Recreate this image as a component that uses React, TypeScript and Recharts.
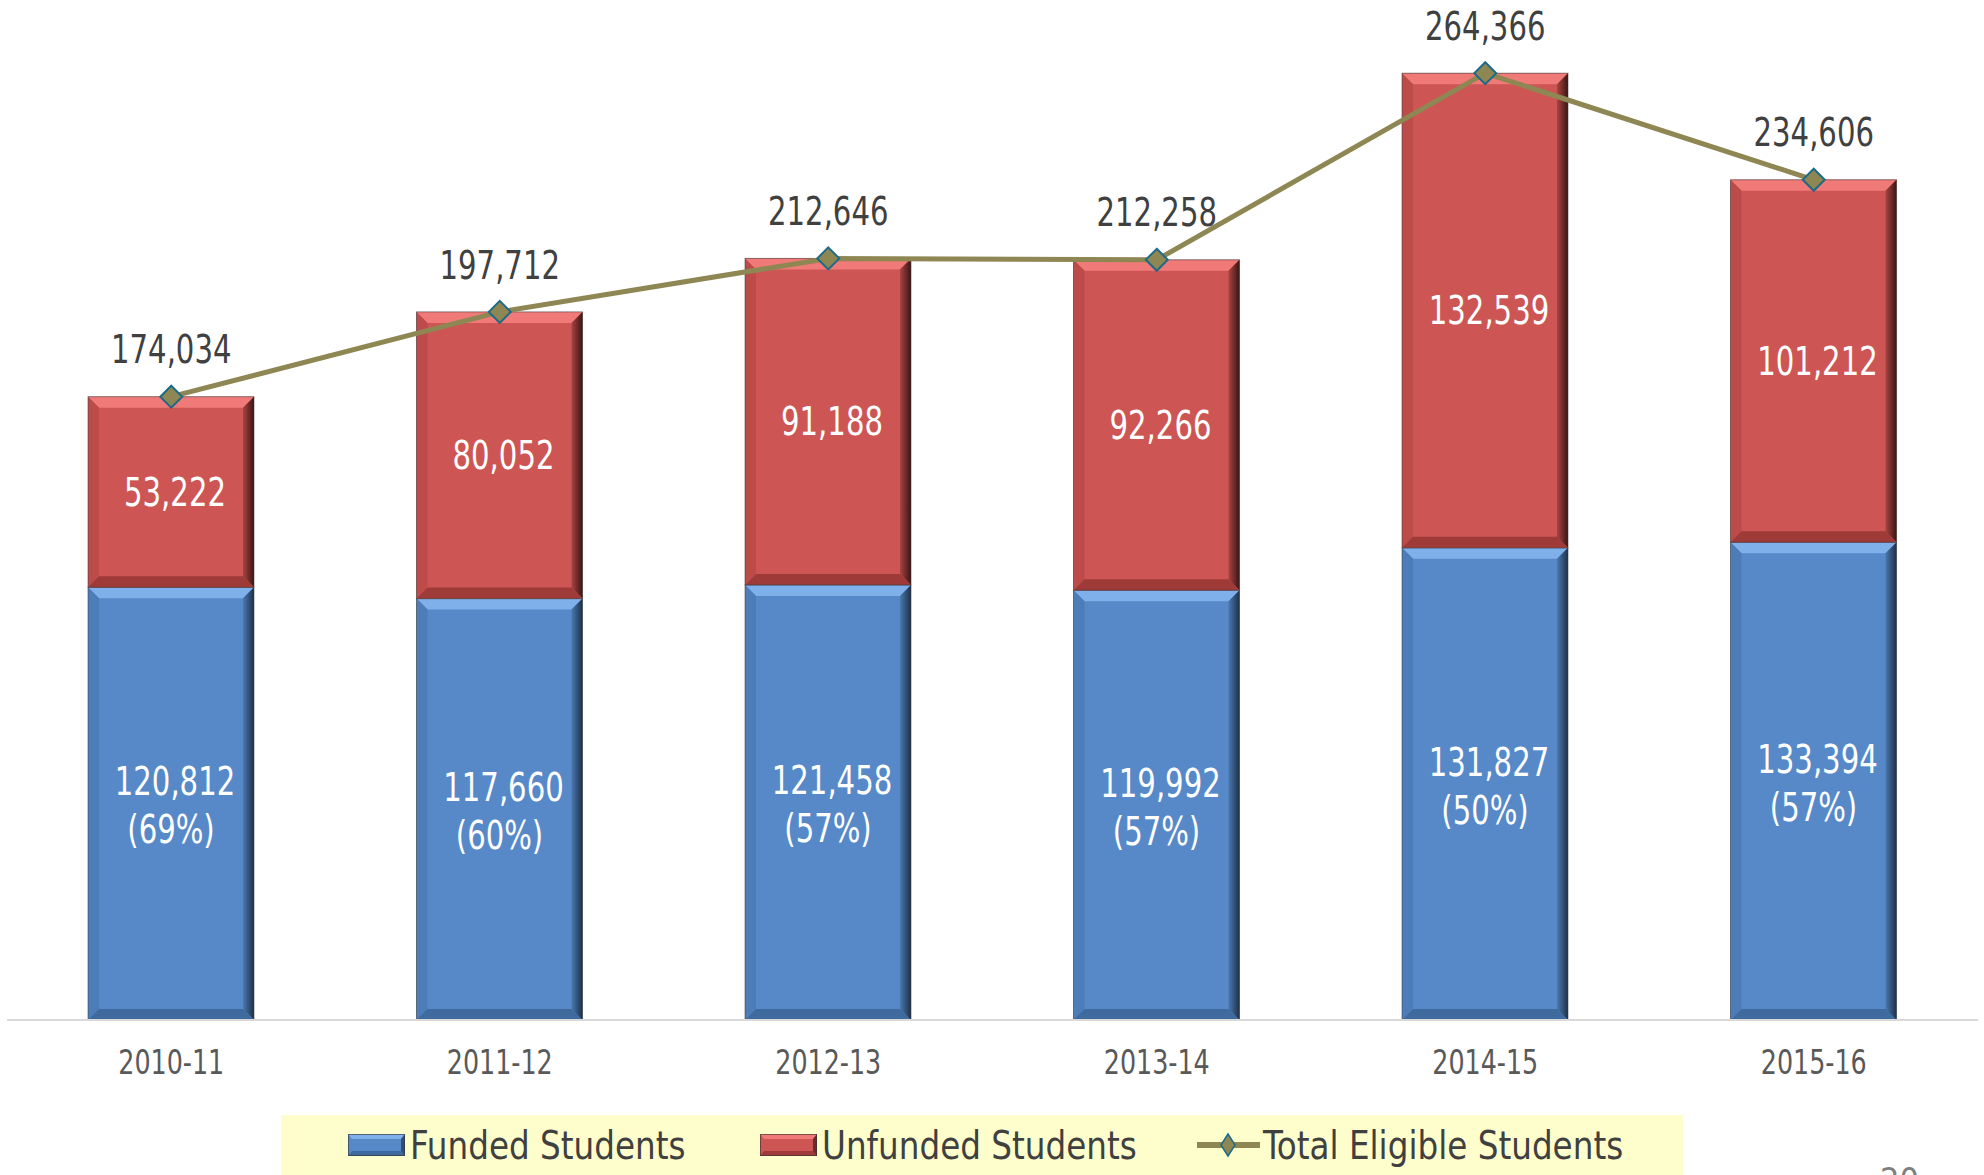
import { Bar, ComposedChart, LabelList, Line, XAxis, YAxis } from 'recharts';

// school years on the x axis
const years = ['2010-11', '2011-12', '2012-13', '2013-14', '2014-15', '2015-16'];

// student counts per year
const funded = [120812, 117660, 121458, 119992, 131827, 133394];
const unfunded = [53222, 80052, 91188, 92266, 132539, 101212];
const totalEligible = [174034, 197712, 212646, 212258, 264366, 234606];
const fundedShare = ['69%', '60%', '57%', '57%', '50%', '57%'];

const FONT = '"Liberation Sans Narrow", "Arial Narrow", "DejaVu Sans Condensed", sans-serif';
const BLUE = '#5789C9';
const RED = '#CD5654';
const OLIVE = '#8E8753';
const MARKER_EDGE = '#1D6A88';
const TEXT_DARK = '#404040';
// the slide uses a very condensed face; squeeze ours to match
const SQUEEZE = 0.83;

const fmt = (n: number) => n.toLocaleString('en-US');

const data = years.map((year, i) => ({
  year,
  funded: funded[i],
  unfunded: unfunded[i],
  total: totalEligible[i],
  share: fundedShare[i],
}));

const BEVEL: Record<string, { top: string; left: string; right: string; bottom: string }> = {
  [BLUE]: { top: '#7FB0EA', left: '#4D7DB9', right: 'url(#edgeBlue)', bottom: '#3F6A9E' },
  [RED]: { top: '#F07A77', left: '#BC4B49', right: 'url(#edgeRed)', bottom: '#9E3B39' },
};

function NarrowText({
  x,
  y,
  children,
  fill,
  size = 39,
  squeeze = SQUEEZE,
}: {
  x: number;
  y: number;
  children: any;
  fill: string;
  size?: number;
  squeeze?: number;
}) {
  return (
    <text
      transform={`translate(${x} ${y}) scale(${squeeze} 1)`}
      textAnchor="middle"
      dominantBaseline="central"
      fill={fill}
      fontSize={size}
      fontFamily={FONT}
    >
      {children}
    </text>
  );
}

// bar with a soft bevel, like the office chart
function BevelBar(props: any) {
  const { x, y, width: w, height: h, fill } = props;
  if (!w || !h || h <= 0) return null;
  const b = Math.min(11, h / 3);
  const c = BEVEL[fill];
  return (
    <g>
      <rect x={x} y={y} width={w} height={h} fill={fill} />
      <polygon points={`${x},${y} ${x + w},${y} ${x + w - b},${y + b} ${x + b},${y + b}`} fill={c.top} />
      <polygon points={`${x},${y} ${x + b},${y + b} ${x + b},${y + h - b} ${x},${y + h}`} fill={c.left} />
      <polygon
        points={`${x + w},${y} ${x + w},${y + h} ${x + w - b},${y + h - b} ${x + w - b},${y + b}`}
        fill={c.right}
      />
      <polygon
        points={`${x},${y + h} ${x + b},${y + h - b} ${x + w - b},${y + h - b} ${x + w},${y + h}`}
        fill={c.bottom}
      />
      <rect x={x} y={y} width={w} height={h} fill="none" stroke="rgba(60,60,60,0.55)" strokeWidth={1} />
    </g>
  );
}

function Diamond(props: any) {
  const { cx, cy } = props;
  if (cx == null || cy == null) return null;
  const r = 11;
  return (
    <polygon
      points={`${cx},${cy - r} ${cx + r},${cy} ${cx},${cy + r} ${cx - r},${cy}`}
      fill={OLIVE}
      stroke={MARKER_EDGE}
      strokeWidth={2}
    />
  );
}

function UnfundedLabel(props: any) {
  const { x, y, width, height, value } = props;
  return (
    <NarrowText x={x + width / 2 + 4} y={y + height / 2} fill="#fff">
      {fmt(value)}
    </NarrowText>
  );
}

function FundedLabel(props: any) {
  const { x, y, width, height, value, index } = props;
  const cx = x + width / 2;
  const cy = y + height / 2;
  return (
    <g>
      <NarrowText x={cx + 4} y={cy - 22} fill="#fff">
        {fmt(value)}
      </NarrowText>
      <NarrowText x={cx} y={cy + 26} fill="#fff">
        ({fundedShare[index]})
      </NarrowText>
    </g>
  );
}

function TotalLabel(props: any) {
  const { x, y, value } = props;
  return (
    <NarrowText x={x} y={y - 47} fill={TEXT_DARK}>
      {fmt(value)}
    </NarrowText>
  );
}

function YearTick(props: any) {
  const { x, y, payload } = props;
  return (
    <NarrowText x={x} y={y + 16} fill="#595959" size={34} squeeze={0.83}>
      {payload.value}
    </NarrowText>
  );
}

function LegendBox() {
  const item = { position: 'absolute' as const, top: 0, height: 60, display: 'flex', alignItems: 'center' };
  const label = {
    fontSize: 39,
    color: TEXT_DARK,
    fontFamily: FONT,
    marginLeft: 5,
    whiteSpace: 'nowrap' as const,
    display: 'inline-block',
    transform: 'scaleX(0.93)',
    transformOrigin: 'left center',
  };
  const swatch = (color: string) => (
    <svg width={57} height={22}>
      <rect x={0} y={0} width={57} height={22} fill={color} />
      <polygon points="0,0 57,0 53,5 4,5" fill={BEVEL[color].top} />
      <polygon points="0,22 4,17 53,17 57,22" fill={BEVEL[color].bottom} />
      <polygon points="57,0 57,22 53,17 53,5" fill={color === BLUE ? '#2F4F78' : '#6E2928'} />
      <rect x={0.5} y={0.5} width={56} height={21} fill="none" stroke="rgba(50,50,50,0.6)" />
    </svg>
  );
  return (
    <div
      style={{
        position: 'absolute',
        left: 281,
        top: 1115,
        width: 1402,
        height: 60,
        background: '#FEFECC',
      }}
    >
      <div style={{ ...item, left: 67 }}>
        {swatch(BLUE)}
        <span style={label}>Funded Students</span>
      </div>
      <div style={{ ...item, left: 479 }}>
        {swatch(RED)}
        <span style={label}>Unfunded Students</span>
      </div>
      <div style={{ ...item, left: 916 }}>
        <svg width={63} height={30}>
          <line x1={0} y1={15} x2={63} y2={15} stroke={OLIVE} strokeWidth={6} />
          <polygon points="31,4 38,15 31,26 24,15" fill={OLIVE} stroke={MARKER_EDGE} strokeWidth={1.5} />
        </svg>
        <span style={{ ...label, marginLeft: 3 }}>Total Eligible Students</span>
      </div>
    </div>
  );
}

export default function App() {
  return (
    <div
      style={{
        position: 'absolute',
        left: 0,
        top: 0,
        width: 1984,
        height: 1175,
        overflow: 'hidden',
        background: '#fff',
      }}
    >
      <ComposedChart
        width={1984}
        height={1175}
        data={data}
        margin={{ top: 53, right: 6, left: 7, bottom: 0 }}
      >
        <defs>
          <linearGradient id="edgeBlue" x1="0" y1="0" x2="1" y2="0">
            <stop offset="0%" stopColor="#4A78B0" />
            <stop offset="100%" stopColor="#1E3048" />
          </linearGradient>
          <linearGradient id="edgeRed" x1="0" y1="0" x2="1" y2="0">
            <stop offset="0%" stopColor="#A94442" />
            <stop offset="100%" stopColor="#3A1514" />
          </linearGradient>
        </defs>
        <XAxis
          dataKey="year"
          height={155}
          axisLine={{ stroke: '#D9D9D9', strokeWidth: 2 }}
          tickLine={false}
          tickMargin={20}
          tick={YearTick}
        />
        <YAxis hide domain={[0, 270000]} />
        <Bar dataKey="funded" stackId="s" fill={BLUE} barSize={166} shape={BevelBar} isAnimationActive={false}>
          <LabelList dataKey="funded" content={FundedLabel} />
        </Bar>
        <Bar dataKey="unfunded" stackId="s" fill={RED} barSize={166} shape={BevelBar} isAnimationActive={false}>
          <LabelList dataKey="unfunded" content={UnfundedLabel} />
        </Bar>
        <Line
          dataKey="total"
          type="linear"
          stroke={OLIVE}
          strokeWidth={5}
          dot={Diamond}
          activeDot={false}
          isAnimationActive={false}
        >
          <LabelList dataKey="total" content={TotalLabel} />
        </Line>
      </ComposedChart>
      <LegendBox />
      <div
        style={{
          position: 'absolute',
          left: 1880,
          top: 1160,
          fontSize: 34,
          color: '#7F7F7F',
          fontFamily: FONT,
        }}
      >
        20
      </div>
    </div>
  );
}
